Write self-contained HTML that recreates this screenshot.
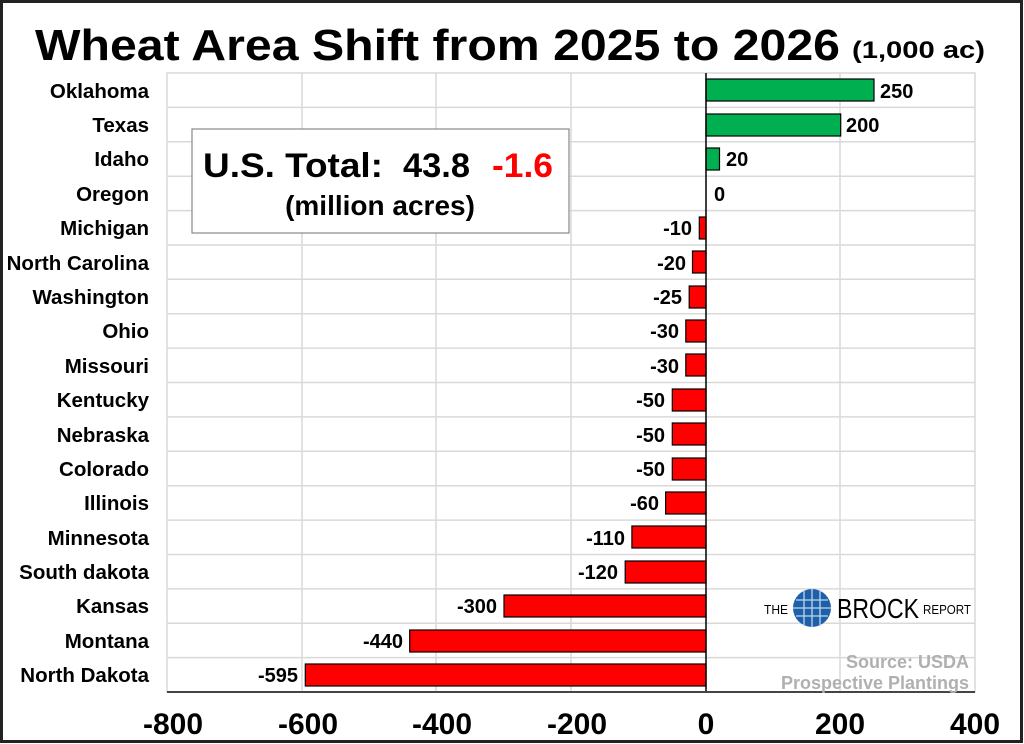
<!DOCTYPE html>
<html><head><meta charset="utf-8"><style>
html,body{margin:0;padding:0;background:#fff}
svg{display:block;font-family:"Liberation Sans",Arial,sans-serif}
</style></head><body>
<svg width="1024" height="744" viewBox="0 0 1024 744">
<rect x="1.5" y="1.5" width="1020" height="740" fill="#fff" stroke="#222" stroke-width="3"/>
<text x="35" y="60" font-size="44" font-weight="bold" textLength="805" lengthAdjust="spacingAndGlyphs">Wheat Area Shift from 2025 to 2026</text>
<text x="852" y="58" font-size="24" font-weight="bold" textLength="133" lengthAdjust="spacingAndGlyphs">(1,000 ac)</text>
<g stroke="#d9d9d9" stroke-width="1.5">
<rect x="167" y="73" width="808" height="619" fill="none"/>
<line x1="302" y1="73" x2="302" y2="692"/><line x1="436" y1="73" x2="436" y2="692"/><line x1="571" y1="73" x2="571" y2="692"/><line x1="840" y1="73" x2="840" y2="692"/>
<line x1="167" y1="107.4" x2="975" y2="107.4"/><line x1="167" y1="141.8" x2="975" y2="141.8"/><line x1="167" y1="176.2" x2="975" y2="176.2"/><line x1="167" y1="210.6" x2="975" y2="210.6"/><line x1="167" y1="245" x2="975" y2="245"/><line x1="167" y1="279.3" x2="975" y2="279.3"/><line x1="167" y1="313.7" x2="975" y2="313.7"/><line x1="167" y1="348.1" x2="975" y2="348.1"/><line x1="167" y1="382.5" x2="975" y2="382.5"/><line x1="167" y1="416.9" x2="975" y2="416.9"/><line x1="167" y1="451.3" x2="975" y2="451.3"/><line x1="167" y1="485.7" x2="975" y2="485.7"/><line x1="167" y1="520.1" x2="975" y2="520.1"/><line x1="167" y1="554.5" x2="975" y2="554.5"/><line x1="167" y1="588.9" x2="975" y2="588.9"/><line x1="167" y1="623.2" x2="975" y2="623.2"/><line x1="167" y1="657.6" x2="975" y2="657.6"/>
</g>
<g stroke="#000" stroke-width="1.2">
<rect x="706" y="79" width="168" height="22" fill="#00b050"/>
<rect x="706" y="114" width="134.7" height="22" fill="#00b050"/>
<rect x="706" y="148" width="13.5" height="22" fill="#00b050"/>
<rect x="699.3" y="217" width="6.7" height="22" fill="#f00"/>
<rect x="692.5" y="251" width="13.5" height="22" fill="#f00"/>
<rect x="689.2" y="286" width="16.8" height="22" fill="#f00"/>
<rect x="685.8" y="320" width="20.2" height="22" fill="#f00"/>
<rect x="685.8" y="354" width="20.2" height="22" fill="#f00"/>
<rect x="672.3" y="389" width="33.7" height="22" fill="#f00"/>
<rect x="672.3" y="423" width="33.7" height="22" fill="#f00"/>
<rect x="672.3" y="458" width="33.7" height="22" fill="#f00"/>
<rect x="665.6" y="492" width="40.4" height="22" fill="#f00"/>
<rect x="631.9" y="526" width="74.1" height="22" fill="#f00"/>
<rect x="625.2" y="561" width="80.8" height="22" fill="#f00"/>
<rect x="504" y="595" width="202" height="22" fill="#f00"/>
<rect x="409.7" y="630" width="296.3" height="22" fill="#f00"/>
<rect x="305.3" y="664" width="400.7" height="22" fill="#f00"/>
</g>
<line x1="706" y1="73" x2="706" y2="692" stroke="#000" stroke-width="1.5"/>
<line x1="167" y1="692" x2="975" y2="692" stroke="#444" stroke-width="2"/>
<g font-size="20.5" font-weight="bold" text-anchor="end">
<text x="149" y="98">Oklahoma</text><text x="149" y="132">Texas</text><text x="149" y="166">Idaho</text><text x="149" y="201">Oregon</text><text x="149" y="235">Michigan</text><text x="149" y="270">North Carolina</text><text x="149" y="304">Washington</text><text x="149" y="338">Ohio</text><text x="149" y="373">Missouri</text><text x="149" y="407">Kentucky</text><text x="149" y="442">Nebraska</text><text x="149" y="476">Colorado</text><text x="149" y="510">Illinois</text><text x="149" y="545">Minnesota</text><text x="149" y="579">South dakota</text><text x="149" y="613">Kansas</text><text x="149" y="648">Montana</text><text x="149" y="682">North Dakota</text>
</g>
<g font-size="20" font-weight="bold">
<text x="880" y="98">250</text><text x="846" y="132">200</text><text x="726" y="166">20</text><text x="714" y="201">0</text>
<g text-anchor="end">
<text x="692" y="235">-10</text><text x="686" y="270">-20</text><text x="682" y="304">-25</text><text x="679" y="338">-30</text><text x="679" y="373">-30</text><text x="665" y="407">-50</text><text x="665" y="442">-50</text><text x="665" y="476">-50</text><text x="659" y="510">-60</text><text x="625" y="545">-110</text><text x="618" y="579">-120</text><text x="497" y="613">-300</text><text x="403" y="648">-440</text><text x="298" y="682">-595</text>
</g></g>
<g font-size="30" font-weight="bold" text-anchor="middle">
<text x="173" y="734">-800</text><text x="308" y="734">-600</text><text x="442" y="734">-400</text><text x="577" y="734">-200</text><text x="706" y="734">0</text><text x="840" y="734">200</text><text x="975" y="734">400</text>
</g>
<rect x="192" y="129" width="377" height="104" fill="#fff" stroke="#888" stroke-width="1.2"/>
<text x="203" y="177" font-size="34" font-weight="bold" textLength="180" lengthAdjust="spacingAndGlyphs">U.S. Total:</text>
<text x="403" y="177" font-size="34" font-weight="bold" textLength="67" lengthAdjust="spacingAndGlyphs">43.8</text>
<text x="492" y="177" font-size="34" font-weight="bold" fill="#f00" textLength="61" lengthAdjust="spacingAndGlyphs">-1.6</text>
<text x="380" y="215" font-size="28" font-weight="bold" text-anchor="middle">(million acres)</text>
<text x="764" y="614" font-size="13" textLength="24" lengthAdjust="spacingAndGlyphs">THE</text>
<circle cx="812" cy="608" r="19" fill="#1f5fa8"/>
<g stroke="#bcd6f0" stroke-width="1.3" fill="none"><line x1="796" y1="600" x2="828" y2="600"/><line x1="793" y1="608" x2="831" y2="608"/><line x1="796" y1="616" x2="828" y2="616"/><line x1="804" y1="590" x2="804" y2="626"/><line x1="812" y1="589" x2="812" y2="627"/><line x1="820" y1="590" x2="820" y2="626"/></g>
<text x="837" y="618" font-size="28" textLength="82" lengthAdjust="spacingAndGlyphs">BROCK</text>
<text x="923" y="614" font-size="13" textLength="48" lengthAdjust="spacingAndGlyphs">REPORT</text>
<g font-size="18" font-weight="bold" fill="#b0b0b0" text-anchor="end"><text x="969" y="668">Source: USDA</text><text x="969" y="689">Prospective Plantings</text></g>
</svg>
</body></html>
